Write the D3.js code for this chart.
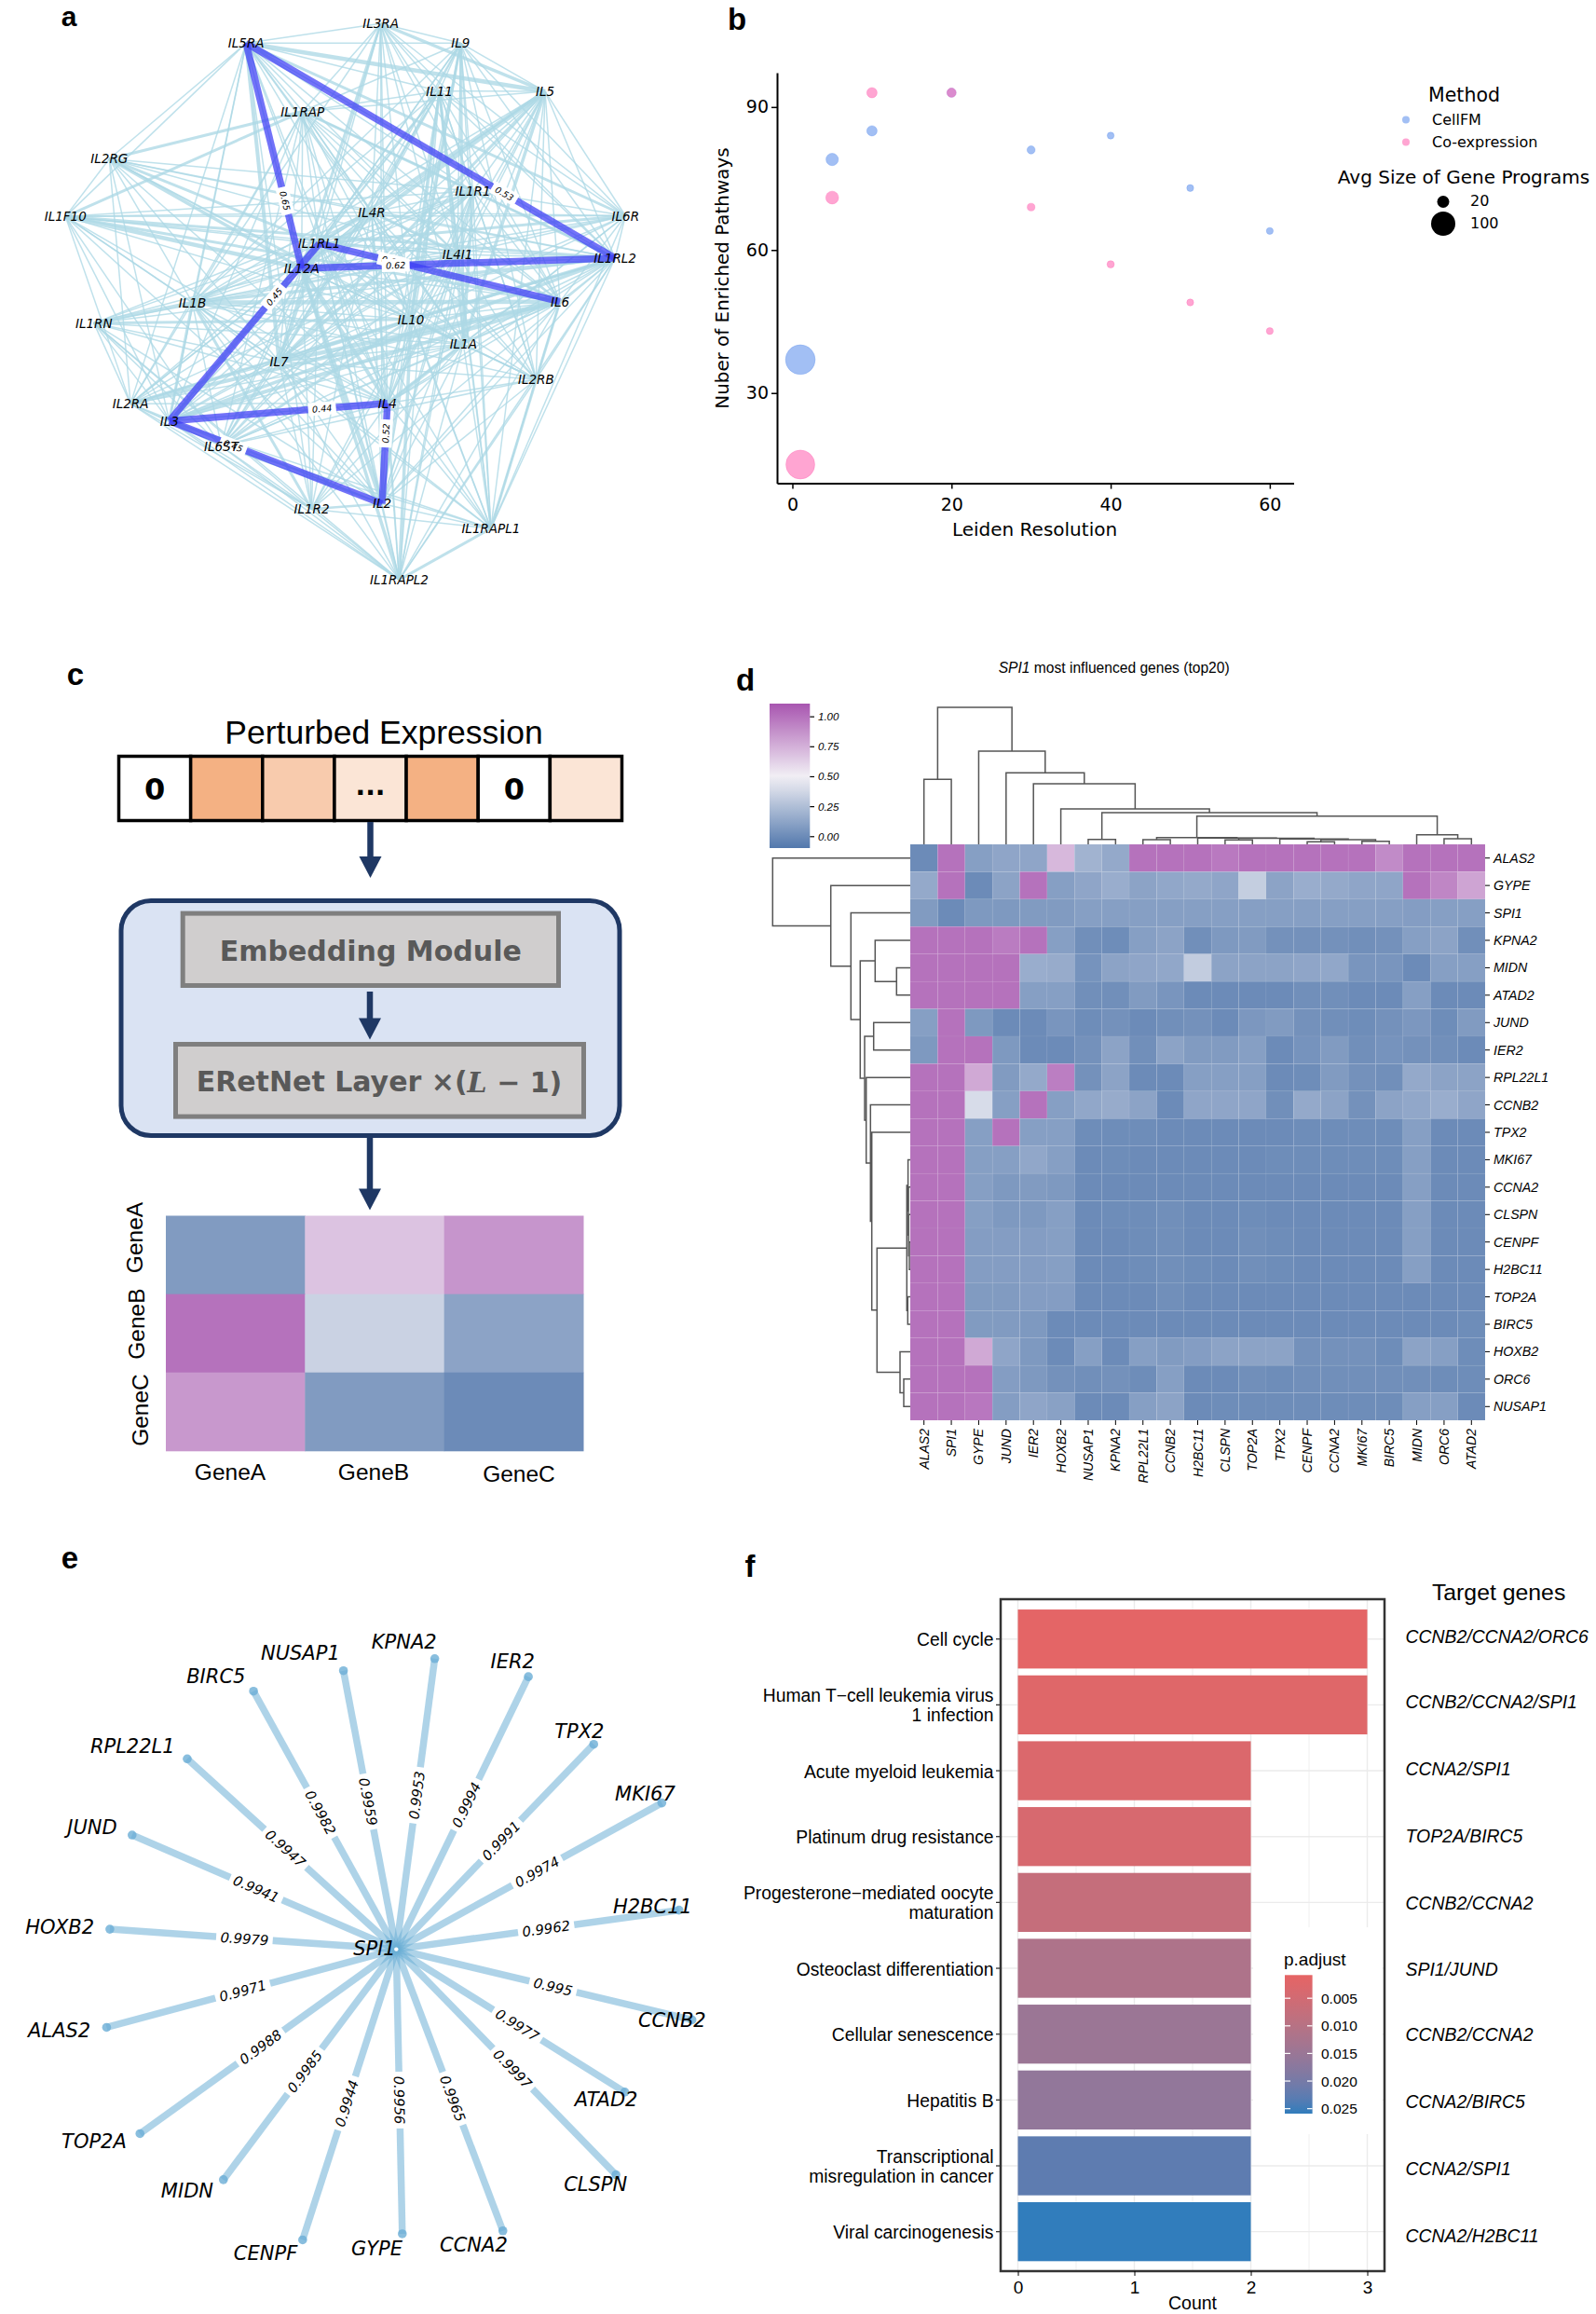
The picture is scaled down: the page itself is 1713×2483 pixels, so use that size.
<!DOCTYPE html>
<html><head><meta charset="utf-8">
<script src="https://cdn.jsdelivr.net/npm/d3@7"></script>
<style>html,body{margin:0;padding:0;background:#fff}svg{display:block}</style></head>
<body><svg id="c" width="1713" height="2483" xmlns="http://www.w3.org/2000/svg"></svg>
<script>
// ---------- panel a data ----------
const netNodes=["IL3RA","IL5RA","IL9","IL11","IL5","IL1RAP","IL2RG","IL1R1","IL1F10","IL4R","IL6R","IL1RL1","IL4I1","IL1RL2","IL12A","IL1B","IL6","IL1RN","IL10","IL1A","IL7","IL2RB","IL2RA","IL4","IL3","IL6ST","IL2","IL1R2","IL1RAPL1","IL1RAPL2"];
const netX=[843,545,1020,973,1207,670,242,1047,145,823,1385,707,1013,1362,668,426,1240,208,910,1026,618,1187,289,858,375,490,846,690,1087,884];
const netY=[60,110,110,232,233,284,405,487,552,541,550,621,649,658,684,771,769,824,814,877,922,967,1029,1028,1073,1137,1284,1298,1347,1478];
const netMissing=[["IL1F10","IL1RN"],["IL2RG","IL1RN"],["IL1RN","IL5RA"],["IL1RN","IL3RA"],["IL1F10","IL1R2"],["IL6R","IL2RB"],["IL6R","IL1R2"],["IL6R","IL2"],["IL3RA","IL1R2"],["IL9","IL1R2"],["IL3RA","IL2RG"],["IL9","IL2RG"],["IL3RA","IL1F10"],["IL9","IL1RN"],["IL3RA","IL1RAPL1"],["IL1F10","IL1RAPL1"],["IL2RG","IL1RAPL1"],["IL1RN","IL1RAPL1"],["IL2RG","IL2"],["IL2RG","IL1RAPL2"],["IL1F10","IL1RAPL2"],["IL9","IL1RAPL2"],["IL5","IL1R2"],["IL5","IL1RAPL2"],["IL6R","IL1RAPL2"],["IL5RA","IL1RAPL1"],["IL5RA","IL1RAPL2"],["IL5RA","IL2RB"],["IL11","IL1RN"],["IL11","IL1R2"],["IL1RAP","IL6R"],["IL1RAP","IL1RAPL1"],["IL2RB","IL1RN"],["IL2RB","IL2RG"],["IL1R1","IL1R2"],["IL1R1","IL1RN"],
["IL3RA","IL6ST"],["IL3RA","IL3"],["IL3RA","IL2RA"],["IL9","IL2RA"],["IL9","IL3"],["IL9","IL6ST"],["IL9","IL1F10"],["IL11","IL2RG"],["IL11","IL1F10"],["IL11","IL2RA"],["IL5","IL2RG"],["IL5","IL1F10"],["IL5","IL1RN"],["IL5","IL2RA"],["IL6R","IL1RN"],["IL6R","IL2RG"],["IL6R","IL2RA"],["IL6R","IL3"],["IL6R","IL6ST"],["IL2RB","IL1F10"],["IL2RB","IL5RA"],["IL2RB","IL3RA"],["IL2RB","IL2RA"],["IL2RB","IL3"],["IL1RAPL1","IL1RN"],["IL1RAPL1","IL2RA"],["IL1RAPL1","IL1RAP"],["IL1RAPL2","IL1RAP"],["IL1RAPL2","IL3RA"],["IL1R2","IL1RAP"],["IL1R2","IL2RG"],["IL1R2","IL2RB"],["IL1R2","IL6"],["IL1RN","IL1RAP"],["IL1RN","IL6"],["IL1F10","IL2RB"],["IL1F10","IL1A"],["IL2RG","IL6ST"],["IL2RG","IL6"],["IL5RA","IL2"],["IL5RA","IL6ST"]];
const netThick=[["IL5RA","IL5",4.5],["IL5RA","IL7",4],["IL5RA","IL6R",3],["IL3RA","IL5",3.5],["IL3RA","IL12A",3],["IL1F10","IL12A",4.5],["IL1F10","IL6",3],["IL1F10","IL1RL2",3],["IL5","IL12A",4.5],["IL5","IL1RL1",3.5],["IL5","IL7",3],["IL5","IL1A",3.5],["IL9","IL10",3],["IL9","IL1A",3],["IL11","IL4I1",3.5],["IL11","IL10",3],["IL2RG","IL1RL1",3],["IL2RG","IL12A",3.5],["IL1RAP","IL1RL2",3],["IL1RAP","IL1F10",3],["IL1RAP","IL2RG",3],["IL1B","IL6",4.5],["IL1RN","IL1B",3.5],["IL1RN","IL10",3],["IL3","IL6",4],["IL3","IL1RL2",3.5],["IL7","IL6",4.5],["IL2RA","IL6",4],["IL2RA","IL10",3],["IL12A","IL2",4.5],["IL12A","IL4",4],["IL12A","IL1RAPL2",3.5],["IL1RL1","IL7",3.5],["IL10","IL1RAPL2",3.5],["IL4","IL1A",4],["IL1R1","IL7",3.5],["IL1R1","IL1A",3.5],["IL1RL2","IL1B",3.5],["IL1RL2","IL10",3.5],["IL6ST","IL10",3],["IL1B","IL1R2",3],["IL6","IL1RAPL1",3],["IL1R2","IL2",2.5],["IL1RAPL1","IL1RAPL2",3],["IL1B","IL3",3],["IL4R","IL6",3],["IL6R","IL1RL1",3]];
const netStrongFrom=["IL5RA","IL5RA","IL6","IL1RL2","IL3","IL3","IL2","IL2"];
const netStrongTo=["IL12A","IL1RL2","IL1RL1","IL12A","IL1RL1","IL4","IL4","IL3"];
const netStrongVal=["0.65","0.53","0.62","0.62","0.45","0.44","0.52","0.45"];
// ---------- panel b data ----------
const resolution=[1,5,10,20,30,40,50,60];
const cellFMPathways=[37,79,85,93,81,84,73,64];
const coexprPathways=[15,71,93,93,69,57,49,43];
const cellFMSize=[150,26,18,14,11,8,8,8];
const coexprSize=[142,28,18,14,10,9,8,8];
// ---------- panel c data ----------
const exprCells=["0","","","...","","0",""];
const exprColors=["#ffffff","#f4b183","#f8cbad","#fbe5d6","#f4b183","#ffffff","#fbe5d6"];
const demoGenes=["GeneA","GeneB","GeneC"];
const demoMatrix=[[0.08,0.68,0.86],[1,0.35,0.12],[0.85,0.08,0]];
// ---------- panel d data ----------
const colGenes=["ALAS2","SPI1","GYPE","JUND","IER2","HOXB2","NUSAP1","KPNA2","RPL22L1","CCNB2","H2BC11","CLSPN","TOP2A","TPX2","CENPF","CCNA2","MKI67","BIRC5","MIDN","ORC6","ATAD2"];
const rowGenes=["ALAS2","GYPE","SPI1","KPNA2","MIDN","ATAD2","JUND","IER2","RPL22L1","CCNB2","TPX2","MKI67","CCNA2","CLSPN","CENPF","H2BC11","TOP2A","BIRC5","HOXB2","ORC6","NUSAP1"];
const heatRows=[
[0,1,.1,.13,.13,.72,.2,.15,1,1,1,.97,1,1,1,1,1,.9,1,1,1],
[.15,1,0,.12,1,.1,.13,.17,.12,.14,.15,.13,.33,.12,.17,.15,.13,.13,1,.92,.8],
[.08,0,.07,.07,.08,.08,.1,.1,.1,.1,.1,.1,.1,.1,.1,.1,.1,.1,.09,.1,.1],
[1,1,1,.96,1,.1,.02,.01,.1,.12,.02,.07,.08,.03,.03,.03,.02,.03,.1,.12,.02],
[1,1,1,1,.17,.16,.04,.12,.13,.14,.32,.12,.12,.12,.13,.14,.05,.05,0,.1,.1],
[1,1,1,1,.1,.1,.02,.02,.08,.05,0,0,0,0,.02,.02,0,0,.1,0,0],
[.1,1,.07,0,0,.05,.01,.03,0,.02,.03,0,.06,.08,.03,.02,.01,.03,.06,.01,.08],
[.07,1,1,.07,0,0,.03,.12,.02,.12,.08,.08,.1,0,.04,.08,.02,.04,.03,.02,0],
[1,1,.78,.08,.15,.95,.03,.12,0,0,.1,.1,.1,0,.01,.08,.03,.02,.15,.12,.12],
[1,1,.4,.1,1,.1,.14,.16,.12,0,.13,.13,.13,.02,.15,.12,.03,.12,.14,.17,.13],
[1,1,.1,1,.1,.1,.01,.01,.01,0,0,0,0,0,.01,.01,.01,.01,.1,0,0],
[1,1,.1,.1,.14,.1,0,.01,0,0,0,0,0,.01,.01,.01,.01,.01,.1,0,0],
[1,1,.1,.07,.08,.07,0,0,0,0,0,0,0,0,0,0,0,0,.1,0,0],
[1,1,.1,.07,.07,.1,0,.01,.01,.02,0,0,.01,0,0,0,0,0,.1,0,0],
[1,1,.09,.09,.09,.1,0,0,.01,.02,0,0,.02,.01,0,0,0,0,.1,0,0],
[1,1,.09,.09,.09,.1,0,0,.01,.02,.01,0,.02,.01,0,0,0,0,.1,0,0],
[1,1,.08,.08,.09,.09,0,0,0,.02,0,0,0,0,0,0,0,0,0,0,0],
[1,1,.08,.08,.07,0,0,0,0,0,0,0,0,0,0,0,0,0,0,0,.01],
[1,1,.78,.13,.07,0,.1,0,.1,.08,.09,.12,.12,.12,.03,.03,.03,.01,.12,.1,.01],
[1,1,1,.09,.07,.03,.02,.03,.01,.1,0,0,.02,.01,.02,.02,.02,.02,.02,.01,.01],
[1,1,.98,.09,.13,.11,0,0,.1,.12,0,.01,.01,.01,.01,.01,.01,.01,.1,.1,0]];
const colTree=[147,[69.7,0,1],[100,2,[76.7,3,[65,4,[38,5,[34,[5.3,6,7],[30.3,[7.2,[5,8,9],[6.8,10,[6.5,[4.7,11,12],[5.7,13,[5,[2.7,14,15],[3.3,16,17]]]]]],[10.3,18,[6,19,20]]]]]]]]];
const rowTree=[147.7,0,[85.3,1,[63.7,2,[53.7,[37.7,3,[14.7,4,5]],[49,[39.3,6,7],[47.3,8,[42.7,9,[41.3,10,[35.7,[3.7,[2.4,11,[2,12,[1.7,13,[1,14,15]]]],[2.7,16,17]],[11,18,[7,19,20]]]]]]]]]]];
const cbarTicks=[0,0.25,0.5,0.75,1];
// ---------- panel e data ----------
const spiTargets=["KPNA2","IER2","TPX2","MKI67","H2BC11","CCNB2","ATAD2","CLSPN","CCNA2","GYPE","CENPF","MIDN","TOP2A","ALAS2","HOXB2","JUND","RPL22L1","BIRC5","NUSAP1"];
const spiScore=["0.9953","0.9994","0.9991","0.9974","0.9962","0.995","0.9977","0.9997","0.9965","0.9956","0.9944","0.9985","0.9988","0.9971","0.9979","0.9941","0.9947","0.9982","0.9959"];
const spiX=[938,1140,1281,1428,1465,1493,1348,1329,1085,868,653,482,302,230,237,285,404,547,741];
const spiY=[260,296,431,548,762,981,1125,1290,1402,1408,1420,1300,1208,996,800,612,460,325,284];
const spiLabelX=[872,1106,1250,1392,1408,1450,1308,1285,1022,813,573,404,203,128,129,199,286,466,648];
const spiLabelY=[227,266,405,530,755,982,1140,1310,1430,1438,1447,1323,1224,1002,796,597,436,295,250];
// ---------- panel f data ----------
const pathways=["Cell cycle","Human T\u2212cell leukemia virus\n1 infection","Acute myeloid leukemia","Platinum drug resistance","Progesterone\u2212mediated oocyte\nmaturation","Osteoclast differentiation","Cellular senescence","Hepatitis B","Transcriptional\nmisregulation in cancer","Viral carcinogenesis"];
const pathwayCount=[3,3,2,2,2,2,2,2,2,2];
const pathwayP=[0.0013,0.0023,0.003,0.0038,0.0074,0.0116,0.0147,0.0162,0.0226,0.0259];
const targetGenes=["CCNB2/CCNA2/ORC6","CCNB2/CCNA2/SPI1","CCNA2/SPI1","TOP2A/BIRC5","CCNB2/CCNA2","SPI1/JUND","CCNB2/CCNA2","CCNA2/BIRC5","CCNA2/SPI1","CCNA2/H2BC11"];
const pTicks=[0.005,0.01,0.015,0.02,0.025];

const svg=d3.select("#c");
const SANS="'Liberation Sans',Arial,sans-serif", DJ="'DejaVu Sans',sans-serif";
function txt(g,x,y,s,o={}){const t=g.append("text").attr("x",x).attr("y",y).text(s)
  .attr("font-family",o.f||SANS).attr("font-size",o.s||14).attr("fill",o.c||"#000")
  .attr("text-anchor",o.a||"middle").attr("dominant-baseline",o.b||"central");
  if(o.i)t.attr("font-style","italic"); if(o.w)t.attr("font-weight",o.w);
  if(o.r!=null)t.attr("transform",`rotate(${o.r} ${x} ${y})`); return t;}
// panel letters
[["a",74,27.5,30],["b",791,32,33],["c",81,735,33],["d",800,741,33],["e",75,1683,33],["f",805,1692,33]].forEach(d=>
  txt(svg,d[1],d[2],d[0],{s:d[3],w:"bold",b:"auto"}));

// ========== a ==========
(function(){
 const g=svg.append("g");
 const x=d3.scaleLinear([0,1568],[0,760]),y=d3.scaleLinear([0,1568],[0,660]);
 const idx=new Map(netNodes.map((n,i)=>[n,i]));
 const key=(a,b)=>idx.get(a)<idx.get(b)?a+"|"+b:b+"|"+a;
 const miss=new Set(netMissing.map(d=>key(d[0],d[1])));
 const thick=new Map(netThick.map(d=>[key(d[0],d[1]),d[2]]));
 const edges=[];
 netNodes.forEach((a,i)=>netNodes.forEach((b,j)=>{if(j>i&&!miss.has(key(a,b)))edges.push({a:i,b:j,w:thick.get(key(a,b))||1.5});}));
 g.selectAll("line.l").data(edges).join("line").attr("class","l")
  .attr("x1",d=>x(netX[d.a])).attr("y1",d=>y(netY[d.a])).attr("x2",d=>x(netX[d.b])).attr("y2",d=>y(netY[d.b]))
  .attr("stroke","#add8e6").attr("stroke-opacity",.78).attr("stroke-width",d=>d.w);
 const strong=netStrongFrom.map((f,i)=>({f:idx.get(f),t:idx.get(netStrongTo[i]),v:netStrongVal[i]}));
 g.selectAll("line.s").data(strong).join("line").attr("class","s")
  .attr("x1",d=>x(netX[d.f])).attr("y1",d=>y(netY[d.f])).attr("x2",d=>x(netX[d.t])).attr("y2",d=>y(netY[d.t]))
  .attr("stroke","#3c3cf5").attr("stroke-opacity",.72).attr("stroke-width",7.5);
 const strongNames=strong.slice().sort((p,q)=>(p.f===idx.get("IL1RL2"))-(q.f===idx.get("IL1RL2")));
 strongNames.forEach(d=>{
   const x1=x(netX[d.f]),y1=y(netY[d.f]),x2=x(netX[d.t]),y2=y(netY[d.t]);
   const px=x1+(x2-x1)*.7,py=y1+(y2-y1)*.7;let an=Math.atan2(y2-y1,x2-x1)*180/Math.PI;
   if(an>90)an-=180;if(an<-90)an+=180;
   const lg=g.append("g").attr("transform",`translate(${px},${py}) rotate(${an})`);
   lg.append("rect").attr("x",-15).attr("y",-7).attr("width",30).attr("height",14).attr("fill","#fff");
   txt(lg,0,0,d.v,{f:DJ,s:9.5,i:1});
 });
 netNodes.forEach((n,i)=>txt(g,x(netX[i]),y(netY[i]),n,{f:DJ,s:13.5,i:1}));
})();

// ========== b ==========
(function(){
 const g=svg.append("g");
 const x=d3.scaleLinear([-1.93,63],[834,1388.5]),y=d3.scaleLinear([11.06,97.2],[518.6,78]);
 const r=d3.scaleSqrt([0,100],[0,13]);
 const blue="#6495ed",pink="#ff69b4";
 function pts(vals,sizes,col){g.append("g").selectAll("circle").data(resolution).join("circle")
   .attr("cx",d=>x(d)).attr("cy",(d,i)=>y(vals[i])).attr("r",(d,i)=>r(sizes[i]))
   .attr("fill",col).attr("fill-opacity",.6).attr("stroke",col).attr("stroke-opacity",.35).attr("stroke-width",1);}
 pts(cellFMPathways,cellFMSize,blue);pts(coexprPathways,coexprSize,pink);
 const ax=g.append("g").attr("transform","translate(0,518.6)").call(d3.axisBottom(x).tickValues([0,20,40,60]).tickSize(6).tickSizeOuter(0));
 const ay=g.append("g").attr("transform","translate(834,0)").call(d3.axisLeft(y).tickValues([30,60,90]).tickSize(6).tickSizeOuter(0));
 [ax,ay].forEach(a=>{a.selectAll("text").attr("font-family",DJ).attr("font-size",19).attr("fill","#000");
   a.select(".domain").attr("stroke-width",2);a.selectAll("line").attr("stroke-width",1.5);});
 ax.selectAll("text").attr("dy",null).attr("y",22.5).attr("dominant-baseline","central");
 ay.selectAll("text").attr("x",-9);
 txt(g,1110.5,568,"Leiden Resolution",{f:DJ,s:20});
 txt(g,776,298.6,"Nuber of Enriched Pathways",{f:DJ,s:19.9,r:-90});
 txt(g,1571.5,102,"Method",{f:DJ,s:20.5});
 txt(g,1571,190,"Avg Size of Gene Programs",{f:DJ,s:20});
 [["CellFM",blue,128],["Co-expression",pink,152]].forEach(d=>{
   g.append("circle").attr("cx",1509).attr("cy",d[2]+.5).attr("r",4).attr("fill",d[1]).attr("fill-opacity",.6);
   txt(g,1537,d[2],d[0],{f:DJ,s:16,a:"start"});});
 [[20,216.5],[100,240]].forEach(d=>{
   g.append("circle").attr("cx",1549).attr("cy",d[1]).attr("r",d[0]==20?6.5:r(d[0])).attr("fill","#000");
   txt(g,1578,d[1]-1,String(d[0]),{f:DJ,s:16,a:"start"});});
})();

// ========== c ==========
(function(){
 const g=svg.append("g"),navy="#1f3864";
 txt(g,412,798,"Perturbed Expression",{s:35.5,b:"auto"});
 const cx=d3.scaleBand(d3.range(7),[127.5,667.5]);
 g.selectAll("rect.e").data(exprCells).join("rect").attr("class","e")
  .attr("x",(d,i)=>cx(i)).attr("y",811.5).attr("width",cx.bandwidth()).attr("height",69)
  .attr("fill",(d,i)=>exprColors[i]).attr("stroke","#000").attr("stroke-width",3.5);
 exprCells.forEach((s,i)=>{if(s)txt(g,cx(i)+cx.bandwidth()/2,s==="0"?846.5:843,s,{f:DJ,s:s==="0"?32:28,w:"bold"});});
 g.append("rect").attr("x",127.5+2.5).attr("y",966.5).attr("width",535).attr("height",252).attr("rx",32)
  .attr("fill","#dae3f3").attr("stroke",navy).attr("stroke-width",5);
 [[193.7,977.6,408.3,82.4],[186,1118,443,82.6]].forEach(b=>g.append("rect")
  .attr("x",b[0]+2.5).attr("y",b[1]+2.5).attr("width",b[2]-5).attr("height",b[3]-5)
  .attr("fill","#d0cece").attr("stroke","#7f7f7f").attr("stroke-width",5));
 txt(g,397.8,1020,"Embedding Module",{f:DJ,s:30,w:"bold",c:"#595959"});
 const t=txt(g,407,1160.5,"ERetNet Layer \u00d7(",{f:DJ,s:30,w:"bold",c:"#595959"});
 t.append("tspan").attr("font-family","'DejaVu Serif',serif").attr("font-style","italic").text("L");
 t.append("tspan").text(" \u2212 1)");
 const line=d3.line();
 [[397.5,882,942],[397,1064,1115.5],[397,1221,1298.6]].forEach(a=>{
   g.append("rect").attr("x",a[0]-3.25).attr("y",a[1]).attr("width",6.5).attr("height",a[2]-a[1]-15).attr("fill",navy);
   g.append("path").attr("d",line([[a[0]-12,a[2]-23],[a[0]+12,a[2]-23],[a[0],a[2]]])+"Z").attr("fill",navy);
 });
 const color=dColor;
 const hx=d3.scaleBand(demoGenes,[178,626]),hy=d3.scaleBand(demoGenes,[1304.5,1556.8]);
 demoGenes.forEach((r,i)=>demoGenes.forEach((c,j)=>g.append("rect").attr("x",hx(c)).attr("y",hy(r))
   .attr("width",hx.bandwidth()+.5).attr("height",hy.bandwidth()+.5).attr("fill",color(demoMatrix[i][j]))));
 [[247,1579],[401,1579],[557,1581]].forEach((p,i)=>txt(g,p[0],p[1],demoGenes[i],{s:24.5}));
 [[144,1328],[147,1420.6],[150,1513]].forEach((p,i)=>txt(g,p[0],p[1],demoGenes[i],{s:24.5,r:-90}));
})();
function dColor(v){return d3.scaleLinear([-0.095,0.5,1.11],["#5278ac","#f2f0f5","#a856b0"]).clamp(true)(v);}

// ========== d ==========
(function(){
 const g=svg.append("g");
 const hx=d3.scaleBand(colGenes,[977,1594]),hy=d3.scaleBand(rowGenes,[906,1524]);
 const t=txt(g,1071.7,716,"SPI1",{s:15.6,i:1,a:"start"});
 t.append("tspan").attr("font-style","normal").text(" most influenced genes (top20)");
 // colour bar
 const cb=d3.scaleLinear([-0.095,1.11],[910,755]);
 const grad=svg.append("defs").append("linearGradient").attr("id","dg").attr("x1",0).attr("x2",0).attr("y1",1).attr("y2",0);
 d3.range(0,1.001,0.1).forEach(f=>grad.append("stop").attr("offset",f).attr("stop-color",dColor(-0.095+f*1.205)));
 g.append("rect").attr("x",826).attr("y",755).attr("width",43.3).attr("height",155).attr("fill","url(#dg)");
 cbarTicks.forEach(v=>{g.append("line").attr("x1",869.3).attr("x2",874).attr("y1",cb(v)).attr("y2",cb(v)).attr("stroke","#000").attr("stroke-width",1.2);
   txt(g,878,cb(v),v.toFixed(2),{s:11.5,i:1,a:"start"});});
 // heat
 heatRows.forEach((row,i)=>row.forEach((v,j)=>g.append("rect").attr("x",hx(colGenes[j])).attr("y",hy(rowGenes[i]))
   .attr("width",hx.bandwidth()).attr("height",hy.bandwidth()).attr("fill",dColor(v)).attr("stroke","#fff").attr("stroke-opacity",.06).attr("stroke-width",.8)));
 rowGenes.forEach(r=>{const yy=hy(r)+hy.bandwidth()/2;
   g.append("line").attr("x1",1594).attr("x2",1599).attr("y1",yy).attr("y2",yy).attr("stroke","#000").attr("stroke-width",1);
   txt(g,1603,yy,r,{s:14.2,i:1,a:"start"});});
 colGenes.forEach(c=>{const xx=hx(c)+hx.bandwidth()/2;
   g.append("line").attr("x1",xx).attr("x2",xx).attr("y1",1524).attr("y2",1529).attr("stroke","#000").attr("stroke-width",1);
   txt(g,xx,1533,c,{s:14,i:1,a:"end",r:-90});});
 // dendrograms
 function walk(n,leaf,pts){
   if(typeof n==="number")return{p:leaf(n),h:0};
   const a=walk(n[1],leaf,pts),b=walk(n[2],leaf,pts);
   pts.push({h:n[0],a,b});return{p:(a.p+b.p)/2,h:n[0]};
 }
 const topNodes=[],leftNodes=[];
 walk(colTree,i=>hx(colGenes[i])+hx.bandwidth()/2,topNodes);
 walk(rowTree,i=>hy(rowGenes[i])+hy.bandwidth()/2,leftNodes);
 const th=d3.scaleLinear([0,147],[906,759]),lh=d3.scaleLinear([0,147.7],[977,829.3]);
 const line=d3.line();
 g.append("g").selectAll("path").data(topNodes).join("path").attr("fill","none").attr("stroke","#555").attr("stroke-width",1.5)
  .attr("d",d=>line([[d.a.p,th(d.a.h)],[d.a.p,th(d.h)],[d.b.p,th(d.h)],[d.b.p,th(d.b.h)]]));
 g.append("g").selectAll("path").data(leftNodes).join("path").attr("fill","none").attr("stroke","#555").attr("stroke-width",1.5)
  .attr("d",d=>line([[lh(d.a.h),d.a.p],[lh(d.h),d.a.p],[lh(d.h),d.b.p],[lh(d.b.h),d.b.p]]));
})();

// ========== e ==========
(function(){
 const g=svg.append("g");
 const x=d3.scaleLinear([0,1568],[0,780]),y=d3.scaleLinear([0,1568],[1640,2483]);
 const cx=x(855),cy=y(840);
 const data=spiTargets.map((n,i)=>({n,s:spiScore[i],x:x(spiX[i]),y:y(spiY[i]),lx:x(spiLabelX[i]),ly:y(spiLabelY[i])}));
 g.selectAll("line").data(data).join("line").attr("x1",cx).attr("y1",cy).attr("x2",d=>d.x).attr("y2",d=>d.y)
  .attr("stroke","#6baed6").attr("stroke-opacity",.55).attr("stroke-width",7.5);
 g.selectAll("circle.t").data(data).join("circle").attr("class","t").attr("cx",d=>d.x).attr("cy",d=>d.y).attr("r",4.8)
  .attr("fill","#6baed6").attr("fill-opacity",.8);
 g.append("circle").attr("cx",cx).attr("cy",cy).attr("r",2.2).attr("fill","#fff");
 data.forEach(d=>{
   const px=cx+(d.x-cx)*.53,py=cy+(d.y-cy)*.53;let an=Math.atan2(d.y-cy,d.x-cx)*180/Math.PI;
   if(an>90)an-=180;if(an<-90)an+=180;
   const lg=g.append("g").attr("transform",`translate(${px},${py}) rotate(${an})`);
   const w=d.s.length*8.8+8;
   lg.append("rect").attr("x",-w/2).attr("y",-9).attr("width",w).attr("height",18).attr("fill","#fff");
   txt(lg,0,0,d.s,{f:DJ,s:14.8,i:1});
   txt(g,d.lx,d.ly,d.n,{f:DJ,s:21,i:1});
 });
 txt(g,x(808),y(838),"SPI1",{f:DJ,s:21,i:1});
})();

// ========== f ==========
(function(){
 const g=svg.append("g");
 const x=d3.scaleLinear([0,3],[1092.5,1467.5]);
 const y=d3.scaleBand(pathways,[1723.4,2430]).paddingInner(.104).paddingOuter(.052);
 const pcolor=d3.scaleLinear([0.0008,0.0259],["#e66464","#317dbc"]).interpolate(d3.interpolateLab);
 const L=1074,R=1486,T=1716,B=2437;
 [0,.5,1,1.5,2,2.5,3].forEach(v=>g.append("line").attr("x1",x(v)).attr("x2",x(v)).attr("y1",T).attr("y2",B)
   .attr("stroke","#ebebeb").attr("stroke-width",v%1?0.8:1.4));
 pathways.forEach(p=>{const yy=y(p)+y.bandwidth()/2;g.append("line").attr("x1",L).attr("x2",R).attr("y1",yy).attr("y2",yy).attr("stroke","#ebebeb").attr("stroke-width",1.4);});
 g.append("rect").attr("x",1345).attr("y",2068).attr("width",139).attr("height",222).attr("fill","#fff");
 g.selectAll("rect.b").data(pathways).join("rect").attr("class","b")
  .attr("x",x(0)).attr("y",d=>y(d)).attr("height",y.bandwidth()).attr("width",(d,i)=>x(pathwayCount[i])-x(0))
  .attr("fill",(d,i)=>pcolor(pathwayP[i]));
 g.append("rect").attr("x",L).attr("y",T).attr("width",R-L).attr("height",B-T).attr("fill","none").attr("stroke","#333").attr("stroke-width",2.5);
 const ax=g.append("g").attr("transform",`translate(0,${B})`).call(d3.axisBottom(x).tickValues([0,1,2,3]).tickFormat(d3.format("d")).tickSize(5).tickSizeOuter(0));
 ax.select(".domain").remove();
 ax.selectAll("text").attr("font-family",SANS).attr("font-size",19).attr("fill","#000").attr("dy",null).attr("y",17).attr("dominant-baseline","central");
 pathways.forEach((p,i)=>{const yy=y(p)+y.bandwidth()/2;
   g.append("line").attr("x1",L-5).attr("x2",L).attr("y1",yy).attr("y2",yy).attr("stroke","#333").attr("stroke-width",1.3);
   const lines=p.split("\n");
   lines.forEach((s,k)=>txt(g,1066.5,yy+(k-(lines.length-1)/2)*21+1,s,{s:19.3,a:"end"}));
   txt(g,1508.6,[1756,1826.4,1898,1969.7,2041.6,2112.5,2183,2255,2326.7,2398.5][i],targetGenes[i],{s:19.4,i:1,a:"start"});
 });
 txt(g,1280,2470.5,"Count",{s:19.5});
 txt(g,1608.6,1708,"Target genes",{s:24.8});
 // colour legend
 txt(g,1378,2102,"p.adjust",{s:19,a:"start"});
 const lc=d3.scaleLinear([0.0008,0.0259],[2119.3,2268]);
 const gr=svg.select("defs").append("linearGradient").attr("id","pg").attr("x1",0).attr("x2",0).attr("y1",0).attr("y2",1);
 d3.range(0,1.001,0.1).forEach(f=>gr.append("stop").attr("offset",f).attr("stop-color",pcolor(0.0008+f*0.0251)));
 g.append("rect").attr("x",1379).attr("y",2119.3).attr("width",29.6).attr("height",148.7).attr("fill","url(#pg)");
 pTicks.forEach(v=>{
   [[1379,1385],[1403,1408.6]].forEach(e=>g.append("line").attr("x1",e[0]).attr("x2",e[1]).attr("y1",lc(v)).attr("y2",lc(v)).attr("stroke","#fff").attr("stroke-width",1.2));
   txt(g,1418,lc(v),v.toFixed(3),{s:15.5,a:"start"});
 });
})();
</script></body></html>
